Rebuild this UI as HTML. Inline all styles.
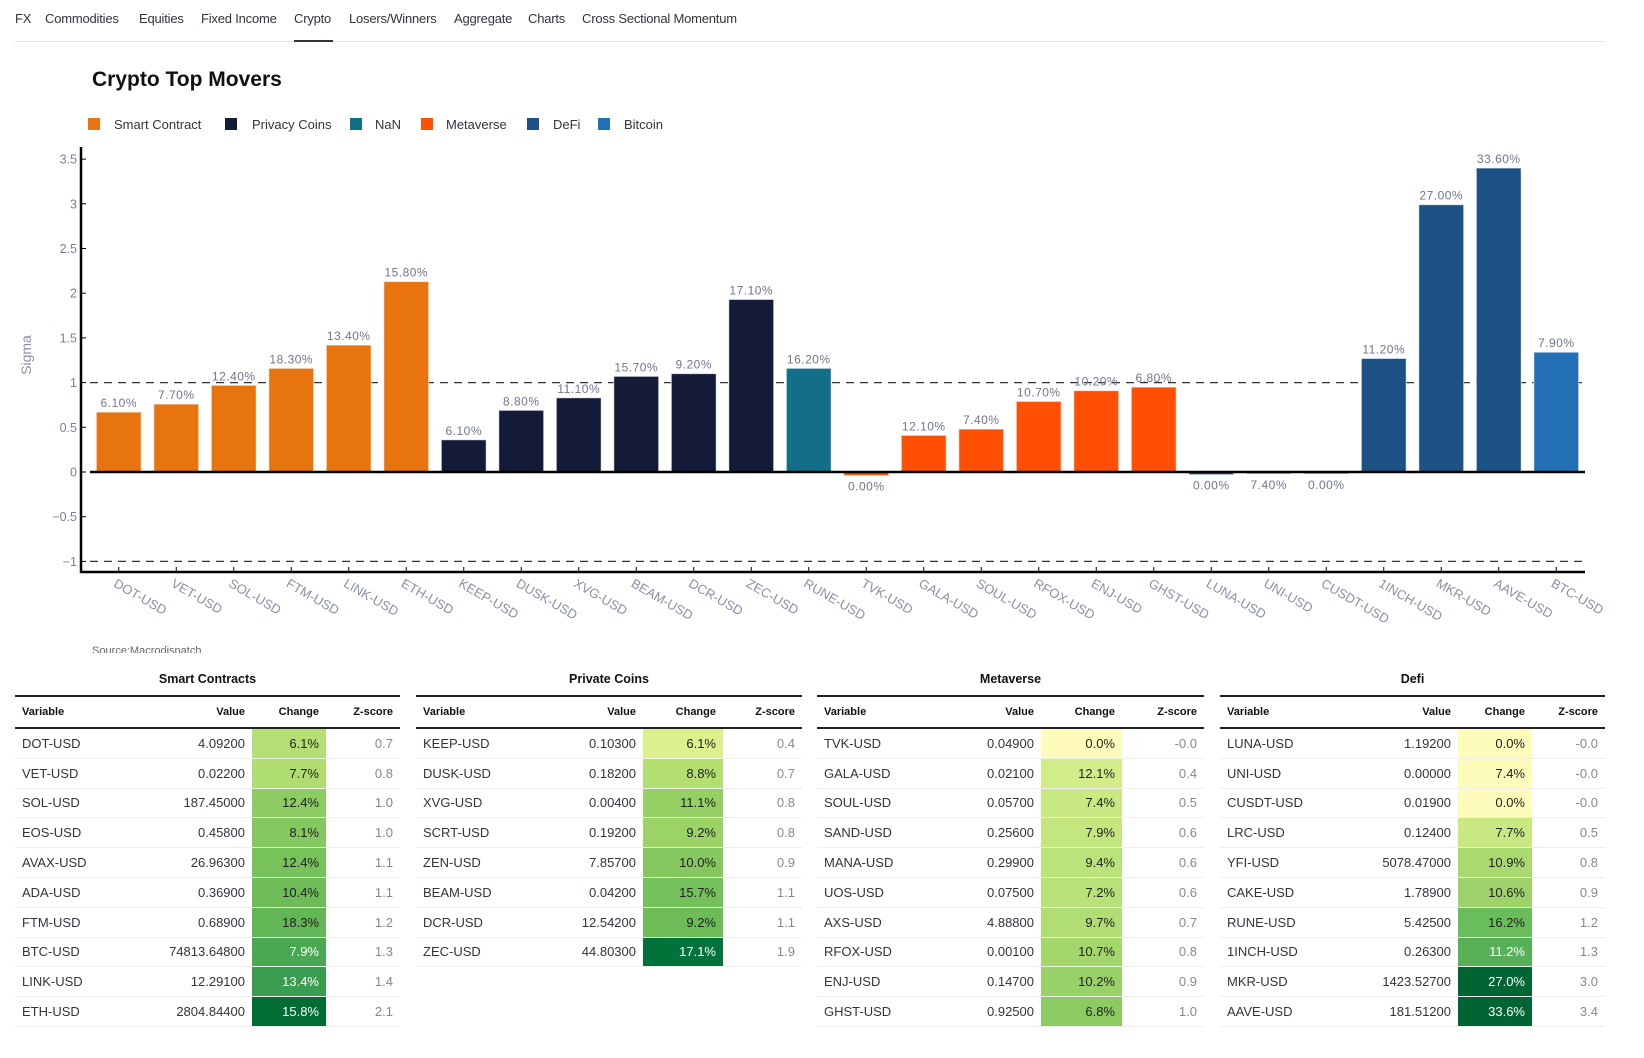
<!DOCTYPE html>
<html><head><meta charset="utf-8">
<style>
body{margin:0;width:1644px;height:1058px;background:#fff;font-family:"Liberation Sans",sans-serif;position:relative;overflow:hidden;color:#31333f}
.tab{position:absolute;top:11px;font-size:13px;letter-spacing:-0.2px;color:#31333f;white-space:nowrap}
.tbl{position:absolute;top:672px;font-size:13px}
.tbl .ttl{position:absolute;top:0;left:0;width:100%;text-align:center;font-weight:bold;font-size:12.5px;color:#111}
table{position:absolute;top:23px;left:0;border-collapse:separate;border-spacing:0;width:100%}
th{font-size:11px;font-weight:bold;color:#111;height:30px;border-top:2px solid #222;border-bottom:2px solid #222;padding:0 7px;text-align:right}
th:first-child,td:first-child{text-align:left}
td{height:28.8px;border-bottom:1px solid #eee;padding:0 7px;text-align:right;color:#31333f;font-size:13px}
td.z{color:#888}
</style></head><body>
<div class="tab" style="left:15px">FX</div>
<div class="tab" style="left:45px">Commodities</div>
<div class="tab" style="left:139px">Equities</div>
<div class="tab" style="left:201px">Fixed Income</div>
<div class="tab" style="left:294px">Crypto</div>
<div class="tab" style="left:349px">Losers/Winners</div>
<div class="tab" style="left:454px">Aggregate</div>
<div class="tab" style="left:528px">Charts</div>
<div class="tab" style="left:582px">Cross Sectional Momentum</div>
<div style="position:absolute;left:15px;top:41px;width:1590px;height:1px;background:#e6e6ea"></div>
<div style="position:absolute;left:294px;top:40px;width:39px;height:2px;background:#31333f"></div>

<svg id="chart" width="1644" height="660" style="position:absolute;left:0;top:0" font-family="Liberation Sans, sans-serif">
<text x="92" y="86" font-size="21" font-weight="bold" fill="#111">Crypto Top Movers</text>
<g id="legend"></g>
<g id="axes"></g>
<g id="bars"></g>
</svg>
<div style="position:absolute;left:92px;top:645px;height:8px;overflow:hidden;font-size:11px;color:#666">Source:Macrodispatch</div>

<div id="tables"></div>

<script>
const NS='http://www.w3.org/2000/svg';
const categories=['DOT-USD','VET-USD','SOL-USD','FTM-USD','LINK-USD','ETH-USD','KEEP-USD','DUSK-USD','XVG-USD','BEAM-USD','DCR-USD','ZEC-USD','RUNE-USD','TVK-USD','GALA-USD','SOUL-USD','RFOX-USD','ENJ-USD','GHST-USD','LUNA-USD','UNI-USD','CUSDT-USD','1INCH-USD','MKR-USD','AAVE-USD','BTC-USD'];
const sigma=[0.67,0.76,0.97,1.16,1.42,2.13,0.36,0.69,0.83,1.07,1.10,1.93,1.16,-0.04,0.41,0.48,0.79,0.91,0.95,-0.03,-0.02,-0.02,1.27,2.99,3.40,1.34];
const changeLabels=['6.10%','7.70%','12.40%','18.30%','13.40%','15.80%','6.10%','8.80%','11.10%','15.70%','9.20%','17.10%','16.20%','0.00%','12.10%','7.40%','10.70%','10.20%','6.80%','0.00%','7.40%','0.00%','11.20%','27.00%','33.60%','7.90%'];
const groups=[0,0,0,0,0,0,1,1,1,1,1,1,2,3,3,3,3,3,3,4,4,4,4,4,4,5];
const groupNames=['Smart Contract','Privacy Coins','NaN','Metaverse','DeFi','Bitcoin'];
const groupColors=['#e8740f','#141b38','#136f87','#ff5005','#1b5185','#2370b5'];
const yTicks=[-1,-0.5,0,0.5,1,1.5,2,2.5,3,3.5];
const yTickLabels=['\u22121','\u22120.5','0','0.5','1','1.5','2','2.5','3','3.5'];

const X0=90,X1=1585,Y0=472,PX=89.4;
const step=(X1-X0)/categories.length;
const xc=i=>X0+step*(i+0.5);
const ys=v=>Y0-v*PX;
function mk(tag,attrs,parent){const e=document.createElementNS(NS,tag);for(const k in attrs)e.setAttribute(k,attrs[k]);parent.appendChild(e);return e;}

const leg=document.getElementById('legend');
const legSq=[88,225,350,421,527,598],legTx=[114,252,375,446,553,624];
groupNames.forEach((n,i)=>{
  const g=mk('g',{},leg);
  
  
  mk('rect',{x:legSq[i],y:118,width:12,height:12,fill:groupColors[i]},g);
  const t=mk('text',{x:legTx[i],y:129,'font-size':13,fill:'#31333f'},g);t.textContent=n;
});

const ax=document.getElementById('axes');
yTicks.forEach((v,i)=>{
  const y=ys(v);
  const t=mk('text',{x:77,y:y+4.5,'text-anchor':'end','font-size':12.5,fill:'#7a7f99'},ax);
  
  
  t.textContent=yTickLabels[i];
  mk('line',{x1:81,x2:86,y1:y,y2:y,stroke:'#000','stroke-width':1},ax);
});
[1,-1].forEach(v=>{
  const l=mk('line',{x1:X0,x2:X1,y1:ys(v),y2:ys(v),stroke:'#333','stroke-width':1.3,'stroke-dasharray':'8,6'},ax);
  
  
});
const yt=mk('text',{x:31,y:355,'text-anchor':'middle','font-size':14,fill:'#8a8fa8',transform:'rotate(-90 31 355)'},ax);


yt.textContent='Sigma';

const bars=document.getElementById('bars');
const bw=step*0.78;
categories.forEach((c,i)=>{
  const v=sigma[i],x=xc(i);
  const top=Math.min(ys(v),Y0),h=Math.abs(ys(v)-Y0);
  const r=mk('rect',{x:x-bw/2,y:top,width:bw,height:Math.max(h,1),fill:groupColors[groups[i]],stroke:'rgba(255,255,255,0.6)','stroke-width':1},bars);
  
  
  const ly=v>=0?ys(v)-5:Y0+h+15;
  const t=mk('text',{x:x,y:ly,'text-anchor':'middle','font-size':12,fill:'#6f7590','letter-spacing':'0.5'},bars);
  
  
  t.textContent=changeLabels[i];
  mk('line',{x1:x,x2:x,y1:567,y2:572,stroke:'#000','stroke-width':1},bars);
  const xl=mk('text',{x:x-6,y:586,'font-size':13,fill:'#8a8fa8',transform:'rotate(30 '+(x-6)+' 586)'},bars);
  
  
  xl.textContent=c;
});
mk('line',{x1:X0,x2:X1,y1:Y0,y2:Y0,stroke:'#000','stroke-width':2.5},bars);
mk('line',{x1:81,x2:81,y1:147,y2:573,stroke:'#000','stroke-width':2.5},bars);
mk('line',{x1:80,x2:X1,y1:572,y2:572,stroke:'#000','stroke-width':2.5},bars);

const T=[
 {name:'Smart Contracts',left:15,w:[107,130,74,74],rows:[
  ['DOT-USD','4.09200','6.1%','0.7','#b5df74'],['VET-USD','0.02200','7.7%','0.8','#b0dd70'],['SOL-USD','187.45000','12.4%','1.0','#8ccc63'],['EOS-USD','0.45800','8.1%','1.0','#84c860'],['AVAX-USD','26.96300','12.4%','1.1','#78c25b'],['ADA-USD','0.36900','10.4%','1.1','#6dbc58'],['FTM-USD','0.68900','18.3%','1.2','#62b655'],['BTC-USD','74813.64800','7.9%','1.3','#4aa852',1],['LINK-USD','12.29100','13.4%','1.4','#3a9c4e',1],['ETH-USD','2804.84400','15.8%','2.1','#006d33',1]]},
 {name:'Private Coins',left:416,w:[123,104,80,79],rows:[
  ['KEEP-USD','0.10300','6.1%','0.4','#dcf08e'],['DUSK-USD','0.18200','8.8%','0.7','#b3de70'],['XVG-USD','0.00400','11.1%','0.8','#94d064'],['SCRT-USD','0.19200','9.2%','0.8','#9bd367'],['ZEN-USD','7.85700','10.0%','0.9','#85c860'],['BEAM-USD','0.04200','15.7%','1.1','#74c05b'],['DCR-USD','12.54200','9.2%','1.1','#6dbc58'],['ZEC-USD','44.80300','17.1%','1.9','#00723a',1]]},
 {name:'Metaverse',left:817,w:[128,96,81,82],rows:[
  ['TVK-USD','0.04900','0.0%','-0.0','#fffcbb'],['GALA-USD','0.02100','12.1%','0.4','#d2ec89'],['SOUL-USD','0.05700','7.4%','0.5','#c9e983'],['SAND-USD','0.25600','7.9%','0.6','#c4e67f'],['MANA-USD','0.29900','9.4%','0.6','#bbe37b'],['UOS-USD','0.07500','7.2%','0.6','#b8e179'],['AXS-USD','4.88800','9.7%','0.7','#b0dd74'],['RFOX-USD','0.00100','10.7%','0.8','#a3d76c'],['ENJ-USD','0.14700','10.2%','0.9','#98d167'],['GHST-USD','0.92500','6.8%','1.0','#8bcb62']]},
 {name:'Defi',left:1220,w:[121,117,74,73],rows:[
  ['LUNA-USD','1.19200','0.0%','-0.0','#fefcbb'],['UNI-USD','0.00000','7.4%','-0.0','#fefcbb'],['CUSDT-USD','0.01900','0.0%','-0.0','#fefcbb'],['LRC-USD','0.12400','7.7%','0.5','#c8e883'],['YFI-USD','5078.47000','10.9%','0.8','#a8da6f'],['CAKE-USD','1.78900','10.6%','0.9','#9dd36a'],['RUNE-USD','5.42500','16.2%','1.2','#6abd5b'],['1INCH-USD','0.26300','11.2%','1.3','#57b057',1],['MKR-USD','1423.52700','27.0%','3.0','#006533',1],['AAVE-USD','181.51200','33.6%','3.4','#006533',1]]}
];
const host=document.getElementById('tables');
T.forEach(t=>{
  const tw=t.w.reduce((a,b)=>a+b,0);
  let h='<div class="tbl" style="left:'+t.left+'px;width:'+tw+'px">';
  h+='<div class="ttl">'+t.name+'</div><table><colgroup>'+t.w.map(w=>'<col style="width:'+w+'px">').join('')+'</colgroup>';
  h+='<tr><th>Variable</th><th>Value</th><th>Change</th><th>Z-score</th></tr>';
  t.rows.forEach(r=>{
    h+='<tr><td>'+r[0]+'</td><td>'+r[1]+'</td><td style="background:'+r[4]+';color:'+(r[5]?'#fff':'#222')+'">'+r[2]+'</td><td class="z">'+r[3]+'</td></tr>';
  });
  h+='</table></div>';
  host.insertAdjacentHTML('beforeend',h);
});
</script>
</body></html>
